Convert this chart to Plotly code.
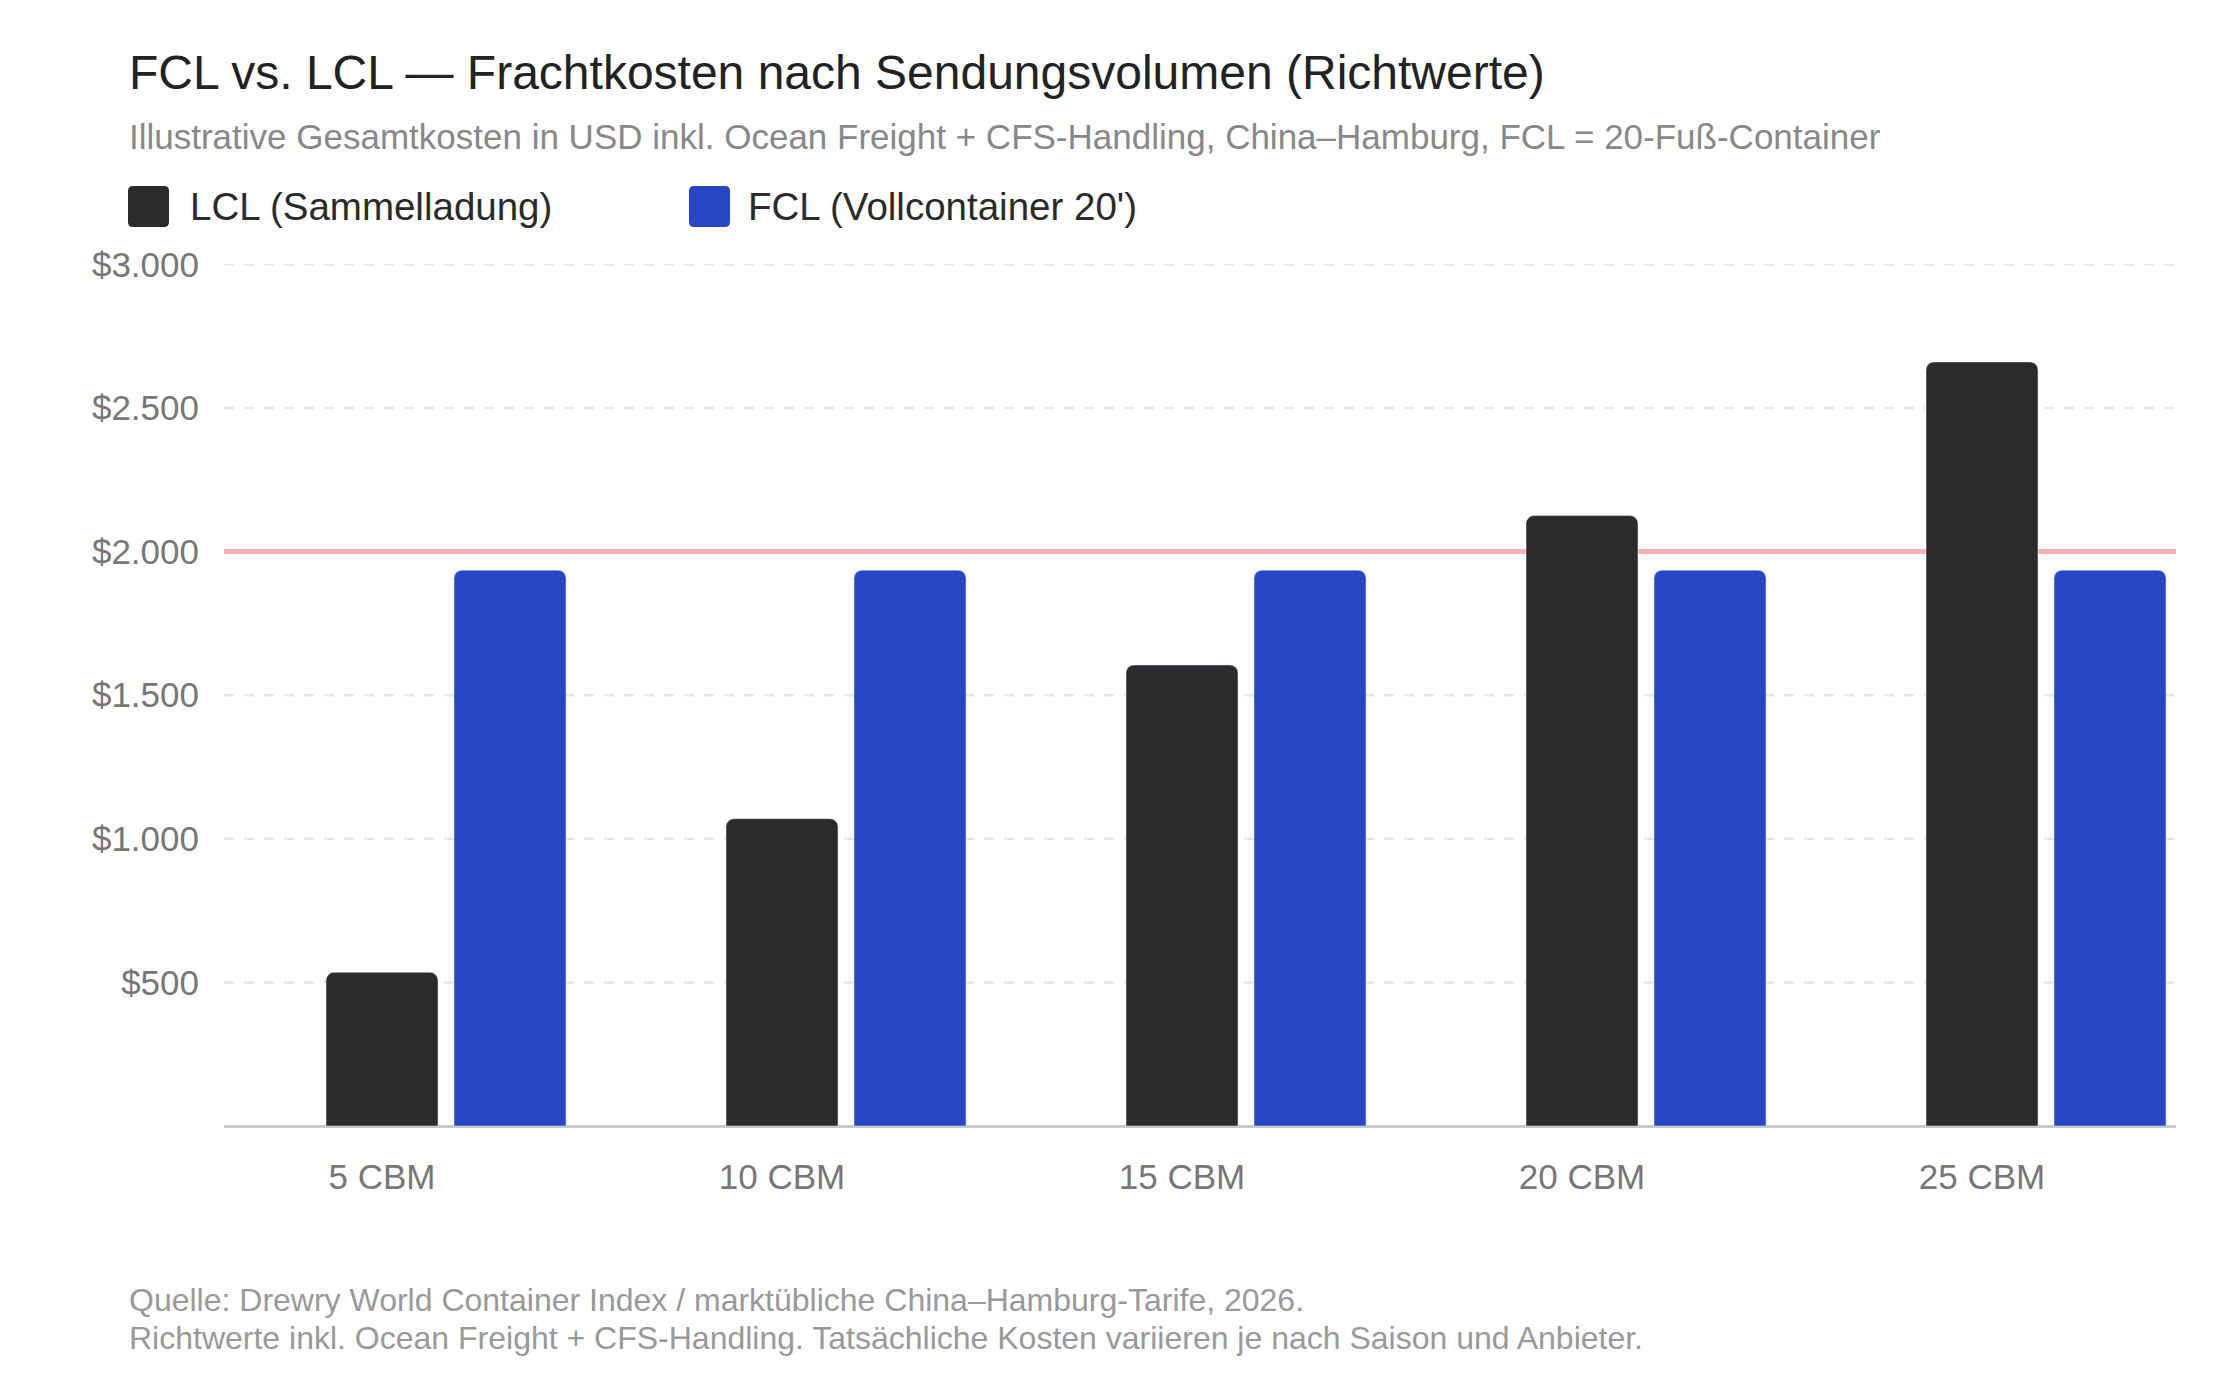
import plotly.graph_objects as go

# ---- data ----
categories = ["5 CBM", "10 CBM", "15 CBM", "20 CBM", "25 CBM"]
lcl_values = [535, 1070, 1605, 2125, 2660]
fcl_values = [1935, 1935, 1935, 1935, 1935]
series_names = ["LCL (Sammelladung)", "FCL (Vollcontainer 20')"]
y_tick_values = [500, 1000, 1500, 2000, 2500, 3000]
y_tick_labels = ["$500", "$1.000", "$1.500", "$2.000", "$2.500", "$3.000"]
threshold = 2000

title = "FCL vs. LCL — Frachtkosten nach Sendungsvolumen (Richtwerte)"
subtitle = ("Illustrative Gesamtkosten in USD inkl. Ocean Freight + CFS-Handling, "
            "China–Hamburg, FCL = 20-Fuß-Container")
footer1 = "Quelle: Drewry World Container Index / marktübliche China–Hamburg-Tarife, 2026."
footer2 = "Richtwerte inkl. Ocean Freight + CFS-Handling. Tatsächliche Kosten variieren je nach Saison und Anbieter."

# ---- layout geometry (pixels) ----
W, H = 2240, 1376
PL, PR, PT, PB = 224, 2176, 264, 1126
FONT = "Liberation Sans, Arial, Helvetica, sans-serif"
LCL_COLOR = "#2b2b2d"
FCL_COLOR = "#2846c4"


def px_x(px):
    return (px - PL) / (PR - PL)


def px_y(py):
    return (PB - py) / (PB - PT)


idx = list(range(len(categories)))

fig = go.Figure()
fig.add_bar(x=idx, y=lcl_values, name=series_names[0], marker_color=LCL_COLOR,
            width=0.28, offset=-0.14, showlegend=False)
fig.add_bar(x=idx, y=fcl_values, name=series_names[1], marker_color=FCL_COLOR,
            width=0.28, offset=0.18, showlegend=False)

# dashed horizontal gridlines (skip the threshold, which gets its own line)
for v in y_tick_values:
    if v == threshold:
        continue
    fig.add_shape(type="line", xref="paper", yref="y", x0=0, x1=1, y0=v, y1=v,
                  line=dict(color="#e6e6e6", width=2.5, dash="10px,10px"), layer="below")

fig.add_shape(type="line", xref="paper", yref="y", x0=0, x1=1, y0=threshold, y1=threshold,
              line=dict(color="#f4b2b6", width=5), layer="below")


def rounded_rect(x0, y0, x1, y1, r):
    # pixel coords, top-left origin -> offsets relative to plot origin (PL, PB), y up
    def X(v):
        return v - PL

    def Y(v):
        return PB - v
    return (f"M{X(x0 + r)},{Y(y0)} L{X(x1 - r)},{Y(y0)} Q{X(x1)},{Y(y0)} {X(x1)},{Y(y0 + r)} "
            f"L{X(x1)},{Y(y1 - r)} Q{X(x1)},{Y(y1)} {X(x1 - r)},{Y(y1)} "
            f"L{X(x0 + r)},{Y(y1)} Q{X(x0)},{Y(y1)} {X(x0)},{Y(y1 - r)} "
            f"L{X(x0)},{Y(y0 + r)} Q{X(x0)},{Y(y0)} {X(x0 + r)},{Y(y0)} Z")


legend_items = [(128, 188, LCL_COLOR, series_names[0]), (689, 746, FCL_COLOR, series_names[1])]
for sq_x, tx, col, name in legend_items:
    fig.add_shape(type="path", xref="paper", yref="paper", xsizemode="pixel", ysizemode="pixel",
                  xanchor=0, yanchor=0, path=rounded_rect(sq_x, 186, sq_x + 41, 227, 5),
                  fillcolor=col, line=dict(width=0), layer="above")
    fig.add_annotation(text=name, xref="paper", yref="paper", x=px_x(tx), y=px_y(207),
                       xanchor="left", yanchor="middle", showarrow=False,
                       font=dict(size=38.5, color="#2a2a2a", family=FONT))

fig.add_annotation(text=title, xref="paper", yref="paper", x=px_x(127), y=px_y(72),
                   xanchor="left", yanchor="middle", showarrow=False,
                   font=dict(size=48, color="#222222", family=FONT))
fig.add_annotation(text=subtitle, xref="paper", yref="paper", x=px_x(127), y=px_y(136),
                   xanchor="left", yanchor="middle", showarrow=False,
                   font=dict(size=35, color="#888888", family=FONT))
fig.add_annotation(text=footer1, xref="paper", yref="paper", x=px_x(127), y=px_y(1300),
                   xanchor="left", yanchor="middle", showarrow=False,
                   font=dict(size=32, color="#999999", family=FONT))
fig.add_annotation(text=footer2, xref="paper", yref="paper", x=px_x(127), y=px_y(1338),
                   xanchor="left", yanchor="middle", showarrow=False,
                   font=dict(size=32, color="#999999", family=FONT))

fig.update_layout(
    width=W, height=H,
    margin=dict(l=PL, r=W - PR, t=PT, b=H - PB, pad=0),
    paper_bgcolor="white", plot_bgcolor="white",
    barmode="overlay", barcornerradius=8,
    font=dict(family=FONT, size=35, color="#777777"),
    showlegend=False,
    xaxis=dict(range=[-0.395, 4.485], tickvals=idx, ticktext=categories,
               showgrid=False, showline=False, zeroline=False, ticks="",
               ticklabelstandoff=27, tickfont=dict(size=35, color="#777777"), fixedrange=True),
    yaxis=dict(range=[0, 3001], tickvals=y_tick_values, ticktext=y_tick_labels,
               showgrid=False, zeroline=True, zerolinecolor="#c8c8c8", zerolinewidth=3,
               showline=False, ticks="", ticklabelstandoff=24,
               tickfont=dict(size=35, color="#777777"), fixedrange=True),
)

fig.write_html("out.html", config={"displayModeBar": False})
